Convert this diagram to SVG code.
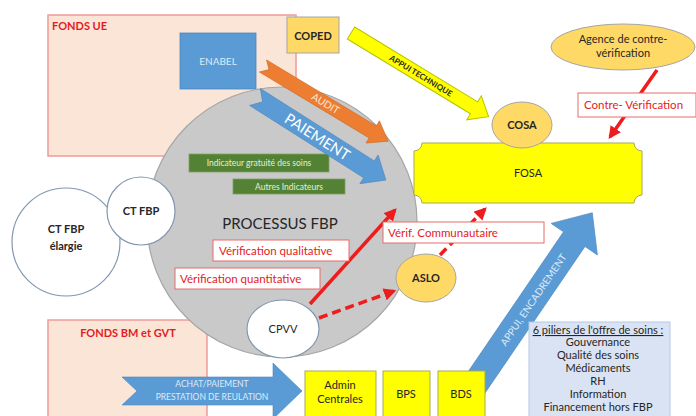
<svg xmlns="http://www.w3.org/2000/svg" width="696" height="416" viewBox="0 0 696 416">
<defs>
<style>
text{font-family:Lato,"Liberation Sans",sans-serif}
.fund{fill:#fbe5d6;stroke:#f19a9a;stroke-width:1.5}
.fundt{fill:#e31b23;font-weight:bold;font-size:11px}
.wc{fill:#fff;stroke:#8497b0;stroke-width:1.2}
.dk{fill:#262626;font-size:11px;text-anchor:middle}
.gold{fill:#ffd966;stroke:#a5a5a5;stroke-width:1}
.yel{fill:#ffff00;stroke:#a9a957;stroke-width:1}
.grn{fill:#548235;stroke:#7f9f68;stroke-width:0.8}
.grnt{fill:#e2efda;font-size:8.5px;text-anchor:middle}
.rbox{fill:#fff;stroke:#e76a6a;stroke-width:1}
.rt{fill:#e31b23;font-size:11.5px}
.red{stroke:#ee1c1c;stroke-width:3.5;fill:none}
</style>
<marker id="ah" viewBox="0 0 10 10" refX="8" refY="5" markerWidth="3.6" markerHeight="3.6" orient="auto" markerUnits="strokeWidth">
<path d="M0,0 L10,5 L0,10 Z" fill="#ee1c1c"/>
</marker>
</defs>
<rect width="696" height="416" fill="#fff"/>

<g id="fonds-ue">
<rect class="fund" x="48" y="15" width="248" height="141"/>
<text class="fundt" x="52" y="30">FONDS UE</text>
</g>
<g id="fonds-bm">
<rect class="fund" x="48" y="320" width="159" height="100"/>
<text class="fundt" x="128" y="337" text-anchor="middle">FONDS BM et GVT</text>
</g>
<g id="enabel">
<rect x="180" y="33" width="76" height="56" fill="#5b9bd5" stroke="#4a87c0" stroke-width="0.8"/>
<text x="218" y="65" fill="#ddebf7" font-size="10" text-anchor="middle">ENABEL</text>
</g>
<g id="coped">
<rect class="gold" x="287" y="17" width="52" height="36"/>
<text class="dk" x="313" y="40" font-weight="bold">COPED</text>
</g>

<g id="processus-fbp">
<circle cx="282" cy="222" r="135" fill="#c9c9c9" stroke="#a6a6a6" stroke-width="1.2"/>
<text x="280" y="229" fill="#262626" font-size="15" text-anchor="middle">PROCESSUS FBP</text>
</g>
<g id="ct-fbp-elargie">
<circle class="wc" cx="66" cy="242" r="54"/>
<text class="dk" x="66" y="233" font-weight="bold">CT FBP</text>
<text class="dk" x="66" y="250" font-weight="bold">élargie</text>
</g>
<g id="ct-fbp">
<circle class="wc" cx="141" cy="211" r="34"/>
<text class="dk" x="141" y="215" font-weight="bold">CT FBP</text>
</g>
<g id="indicateur-gratuite">
<rect class="grn" x="189" y="154" width="140" height="18"/>
<text class="grnt" x="259" y="166">Indicateur gratuité des soins</text>
</g>
<g id="autres-indicateurs">
<rect class="grn" x="233" y="179" width="112" height="15"/>
<text class="grnt" x="289" y="190">Autres Indicateurs</text>
</g>

<g id="connectors">
<path class="red" d="M310,304 L395,210" marker-end="url(#ah)"/>
<path class="red" d="M319,318 L394,291" stroke-dasharray="9,5" marker-end="url(#ah)"/>
<path class="red" d="M440,255 L485,209" stroke-dasharray="9,5" marker-end="url(#ah)"/>
<path class="red" d="M657,70 L610,137" stroke-width="3" marker-end="url(#ah)"/>
<g transform="translate(263,66) rotate(31)">
<path d="M0,-7 L128,-7 L128,-13 L146,0 L128,13 L128,7 L0,7 L7,0 Z" fill="#ed7d31" stroke="#d06a24" stroke-width="0.6"/>
<text x="73" y="3.5" fill="#fde9d9" font-size="10" text-anchor="middle">AUDIT</text>
</g>
<g transform="translate(255,97) rotate(32.4)">
<path d="M0,-10 L135,-10 L135,-17 L155,0 L135,17 L135,10 L0,10 L9,0 Z" fill="#5b9bd5" stroke="#4a87c0" stroke-width="0.6"/>
<text x="74" y="5.5" fill="#fff" font-size="15" text-anchor="middle">PAIEMENT</text>
</g>
<g transform="translate(351,33) rotate(31.3)">
<path d="M0,-7 L144,-7 L144,-14 L161,0 L144,14 L144,7 L0,7 Z" fill="#ffff00" stroke="#b5c400" stroke-width="1"/>
<text x="82" y="3" fill="#262626" font-size="8" font-weight="bold" text-anchor="middle">APPUI TECHNIQUE</text>
</g>
<path d="M122,377 L273,377 L273,363 L302,391 L273,419 L273,405 L122,405 L137,391 Z" fill="#5b9bd5" stroke="#4a87c0" stroke-width="0.6"/>
<text x="212" y="387" fill="#ddebf7" font-size="8.5" text-anchor="middle">ACHAT/PAIEMENT</text>
<text x="212" y="400" fill="#ddebf7" font-size="8.5" text-anchor="middle">PRESTATION DE REULATION</text>
<g transform="translate(470,392) rotate(-55.7)">
<path d="M0,-13 L185,-13 L185,-28 L217,0 L185,28 L185,13 L0,13 Z" fill="#5b9bd5" stroke="#4a87c0" stroke-width="0.6"/>
<text x="112" y="4" fill="#ddebf7" font-size="10" text-anchor="middle">APPUI, ENCADREMENT</text>
</g>
</g>

<g id="verif-qualitative">
<rect class="rbox" x="213" y="240" width="136" height="21"/>
<text class="rt" x="219" y="255">Vérification  qualitative</text>
</g>
<g id="verif-quantitative">
<rect class="rbox" x="175" y="268" width="145" height="21"/>
<text class="rt" x="180" y="283">Vérification quantitative</text>
</g>
<g id="cpvv">
<ellipse class="wc" cx="283" cy="329" rx="36" ry="29"/>
<text class="dk" x="283" y="333">CPVV</text>
</g>
<g id="aslo">
<ellipse class="gold" cx="426" cy="278" rx="30" ry="24"/>
<text class="dk" x="426" y="282" font-weight="bold">ASLO</text>
</g>
<g id="verif-communautaire">
<rect class="rbox" x="383" y="222" width="161" height="21"/>
<text class="rt" x="388" y="237">Vérif. Communautaire</text>
</g>
<g id="fosa">
<path class="yel" d="M422,143 H634 A8,8 0 0 0 642,151 V195 A8,8 0 0 0 634,203 H422 A8,8 0 0 0 414,195 V151 A8,8 0 0 0 422,143 Z"/>
<text class="dk" x="528" y="177">FOSA</text>
</g>
<g id="cosa">
<ellipse class="gold" cx="522" cy="125" rx="30" ry="23"/>
<text class="dk" x="522" y="129" font-weight="bold">COSA</text>
</g>
<g id="agence">
<ellipse class="gold" cx="623" cy="47" rx="72" ry="23"/>
<text class="dk" x="623" y="43" font-size="10">Agence de contre-</text>
<text class="dk" x="623" y="57" font-size="10">vérification</text>
</g>
<g id="contre-verif">
<rect class="rbox" x="578" y="93" width="118" height="24"/>
<text class="rt" x="584" y="109">Contre- Vérification</text>
</g>

<g id="admin-centrales">
<rect class="yel" x="305" y="371" width="71" height="48"/>
<text class="dk" x="340" y="389" font-size="10">Admin</text>
<text class="dk" x="340" y="403" font-size="10">Centrales</text>
</g>
<g id="bps">
<rect class="yel" x="383" y="371" width="47" height="48"/>
<text class="dk" x="406" y="398" font-size="10">BPS</text>
</g>
<g id="bds">
<rect class="yel" x="438" y="371" width="47" height="48"/>
<text class="dk" x="461" y="398" font-size="10">BDS</text>
</g>
<g id="piliers">
<rect x="529" y="322" width="141" height="100" fill="#dae3f3" stroke="#b4c7e7" stroke-width="1"/>
<text class="dk" x="598" y="334" font-size="9" text-decoration="underline">6 piliers  de l'offre de soins :</text>
<text class="dk" x="598" y="346" font-size="9">Gouvernance</text>
<text class="dk" x="598" y="359" font-size="9">Qualité des soins</text>
<text class="dk" x="598" y="372" font-size="9">Médicaments</text>
<text class="dk" x="598" y="385" font-size="9">RH</text>
<text class="dk" x="598" y="398" font-size="9">Information</text>
<text class="dk" x="598" y="411" font-size="9">Financement hors FBP</text>
</g>
</svg>
